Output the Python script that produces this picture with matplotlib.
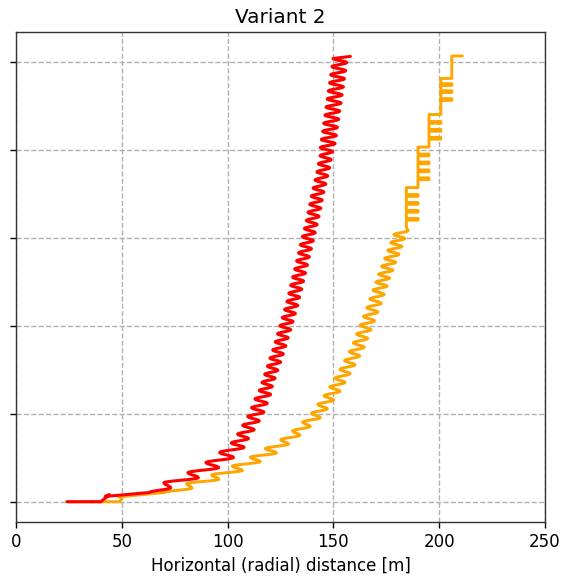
import matplotlib
matplotlib.use("Agg")
import matplotlib.pyplot as plt
from matplotlib.path import Path
from matplotlib.patches import PathPatch

# ---------------- data ----------------
title = "Variant 2"
x_label = "Horizontal (radial) distance [m]"
x_ticks = [0, 50, 100, 150, 200, 250]
y_ticks = [0, 10, 20, 30, 40, 50]
y_tick_labels = ["", "", "", "", "", ""]

# red trajectory: start segment, then alternating left/right extremes of the wave
red_start_x = [24, 40, 44, 42, 63]
red_start_y = [0, 0, 0.8, 0.6, 1.05]
red_x = [73.0, 69.8, 86.1, 81.2, 95.7, 89.7, 102.7, 96.2, 107.7, 101.7,
         109.8, 104.7, 112.5, 107.1, 114.9, 109.5, 117.1, 111.3, 118.7, 112.9,
         120.3, 114.9, 121.1, 116.2, 122.4, 117.5, 123.7, 118.8, 125.0, 120.0,
         126.3, 121.3, 127.5, 122.5, 128.6, 123.6, 129.8, 124.7, 130.9, 125.8,
         132.0, 126.9, 133.1, 128.0, 134.0, 128.9, 135.0, 129.8, 135.9, 130.7,
         136.8, 131.7, 137.7, 132.6, 138.6, 133.5, 139.6, 134.4, 140.5, 135.3,
         141.4, 136.3, 142.3, 137.2, 143.2, 138.0, 144.0, 138.8, 144.7, 139.5,
         145.5, 140.4, 146.4, 141.3, 147.3, 142.2, 148.2, 142.9, 148.9, 143.7,
         149.6, 143.8, 150.8, 144.3, 151.4, 144.9, 151.9, 145.4, 152.5, 146.0,
         153.0, 146.5, 153.6, 147.1, 154.1, 147.6, 154.7, 148.2, 155.2, 148.7,
         155.8, 149.3, 156.3, 149.8]
red_y = [1.58, 2.15, 2.73, 3.30, 3.88, 4.45, 5.03, 5.60, 6.18, 6.68,
         7.18, 7.68, 8.18, 8.68, 9.18, 9.68, 10.18, 10.68, 11.18, 11.68,
         12.18, 12.64, 13.10, 13.56, 14.02, 14.48, 14.94, 15.40, 15.86, 16.32,
         16.78, 17.24, 17.70, 18.16, 18.62, 19.08, 19.54, 20.00, 20.46, 20.92,
         21.38, 21.84, 22.30, 22.76, 23.22, 23.68, 24.14, 24.60, 25.06, 25.52,
         25.98, 26.44, 26.90, 27.36, 27.82, 28.28, 28.74, 29.20, 29.66, 30.12,
         30.58, 31.04, 31.50, 31.96, 32.42, 32.88, 33.34, 33.80, 34.26, 34.72,
         35.18, 35.64, 36.10, 36.56, 37.02, 37.48, 37.94, 38.40, 38.86, 39.32,
         39.78, 40.24, 40.70, 41.16, 41.62, 42.08, 42.54, 43.00, 43.46, 43.92,
         44.38, 44.84, 45.30, 45.76, 46.22, 46.68, 47.14, 47.60, 48.06, 48.52,
         48.98, 49.44, 49.90, 50.36]
red_end_x = [158.0]
red_end_y = [50.60]

# orange trajectory: start segment, wavy lower part, comb-like upper part
orange_start_x = [24, 49, 50.5, 48.5, 70]
orange_start_y = [0, 0, 0.7, 0.55, 1.05]
orange_x = [83.1, 80.6, 95.8, 92.4, 106.9, 102.2, 115.4, 110.7, 123.0, 117.8,
            128.8, 125.1, 134.1, 130.7, 139.0, 135.4, 143.8, 139.6, 147.1, 142.6,
            150.1, 145.6, 153.1, 148.3, 155.5, 150.7, 157.9, 153.1, 160.2, 155.3,
            162.4, 157.5, 164.6, 159.4, 166.2, 161.0, 167.8, 162.6, 169.4, 164.2,
            171.0, 165.8, 172.6, 167.3, 174.0, 168.7, 175.4, 170.1, 176.6, 171.4,
            178.1, 172.8, 179.5, 174.2, 181.0, 175.7, 182.4, 177.1, 183.8, 178.6,
            185.3]
orange_y = [1.55, 2.05, 2.55, 3.05, 3.55, 4.05, 4.55, 5.05, 5.55, 6.05,
            6.55, 7.05, 7.55, 8.05, 8.55, 9.05, 9.55, 10.05, 10.55, 11.05,
            11.55, 12.05, 12.55, 13.05, 13.55, 14.05, 14.55, 15.05, 15.55, 16.05,
            16.55, 17.05, 17.55, 18.05, 18.55, 19.05, 19.55, 20.05, 20.55, 21.05,
            21.55, 22.05, 22.55, 23.05, 23.55, 24.05, 24.50, 24.95, 25.40, 25.85,
            26.30, 26.75, 27.20, 27.65, 28.10, 28.55, 29.00, 29.45, 29.90, 30.35,
            30.80]
orange_comb_start_y = 31.2
orange_comb_base = [184.5, 190.0, 195.2, 200.8]
orange_comb_tip = [190.0, 195.2, 200.8, 206.0]
orange_comb_teeth = [[32.0, 32.9, 33.8, 34.7],
                     [36.6, 37.5, 38.4, 39.3],
                     [41.2, 42.1, 43.0],
                     [45.6, 46.5, 47.3]]
orange_comb_shift = [35.7, 40.3, 44.0, 48.1]
orange_end_x = [206.0, 211.0]
orange_end_y = [50.65, 50.65]

TOOTH = 0.2   # drawn thickness of a comb tooth
K = 0.36      # Bezier handle factor for the smooth wave


def add_lines(verts, codes, xs, ys):
    for x, y in zip(xs, ys):
        verts.append((x, y))
        codes.append(Path.LINETO if verts[:-1] else Path.MOVETO)


def add_wave(verts, codes, xs, ys):
    for x1, y1 in zip(xs, ys):
        x0, y0 = verts[-1]
        dy = y1 - y0
        verts += [(x0, y0 + K * dy), (x1, y1 - K * dy), (x1, y1)]
        codes += [Path.CURVE4] * 3


# red path
rv, rc = [], []
add_lines(rv, rc, red_start_x, red_start_y)
add_wave(rv, rc, red_x, red_y)
add_lines(rv, rc, red_end_x, red_end_y)

# orange path
ov, oc = [], []
add_lines(ov, oc, orange_start_x, orange_start_y)
add_wave(ov, oc, orange_x, orange_y)
cx, cy = [orange_comb_base[0]], [orange_comb_start_y]
for b, t, teeth, ysh in zip(orange_comb_base, orange_comb_tip,
                            orange_comb_teeth, orange_comb_shift):
    for ty in teeth:
        cx += [b, t, t, b]
        cy += [ty, ty, ty + TOOTH, ty + TOOTH]
    cx += [b, t]
    cy += [ysh, ysh]
cx += orange_end_x
cy += orange_end_y
add_lines(ov, oc, cx, cy)

# ---------------- figure ----------------
fig = plt.figure(figsize=(5.72, 5.78), dpi=100)
ax = fig.add_axes([0.0285, 0.0974, 0.924, 0.8464])

ax.add_patch(PathPatch(Path(ov, oc), fill=False, edgecolor="orange",
                       linewidth=2.1, joinstyle="round", capstyle="round",
                       zorder=2))
ax.add_patch(PathPatch(Path(rv, rc), fill=False, edgecolor="red",
                       linewidth=2.2, joinstyle="round", capstyle="round",
                       zorder=3))

ax.set_xlim(0, 250)
ax.set_ylim(-2.27, 53.32)
ax.set_xticks(x_ticks)
ax.set_xticklabels([str(v) for v in x_ticks], fontsize=12)
ax.set_yticks(y_ticks)
ax.set_yticklabels(y_tick_labels)
ax.tick_params(length=4.5, width=1)
ax.grid(True, linestyle="--", color="#b0b0b0", linewidth=1.0)
ax.set_axisbelow(True)
for s in ax.spines.values():
    s.set_linewidth(1.0)
    s.set_color("#333333")

ax.set_xlabel(x_label, fontsize=12, labelpad=4)
ax.set_title(title, fontsize=14.4, pad=7)

fig.savefig("out.png", dpi=100)
